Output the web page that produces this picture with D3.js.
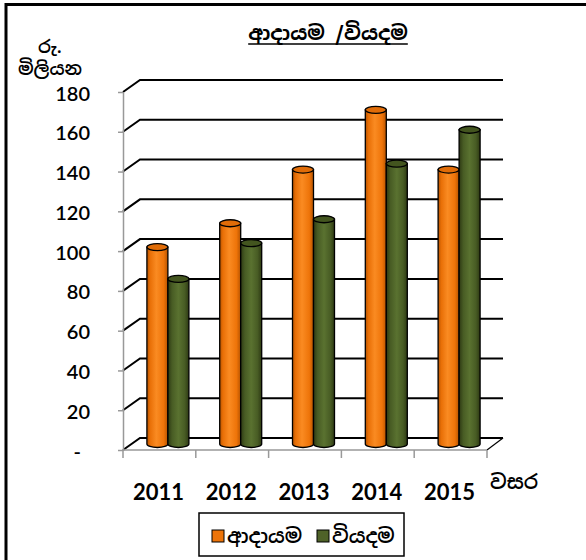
<!DOCTYPE html>
<html>
<head>
<meta charset="utf-8">
<script src="https://cdn.jsdelivr.net/npm/d3@7"></script>
<style>
  body { margin: 0; background: #fff; }
  svg { display: block; }
  .sin { font-family: "Noto Sans Sinhala", "Iskoola Pota", "Noto Sans", sans-serif; }
</style>
</head>
<body>
<svg id="chart"></svg>
<script>
// Chart data
const years = ["2011", "2012", "2013", "2014", "2015"];
const income = [99, 111, 138, 168, 138];   // ආදායම
const expense = [83, 101, 113, 141, 158];  // වියදම
const yTicks = [0, 20, 40, 60, 80, 100, 120, 140, 160, 180];
const seriesNames = ["ආදායම", "වියදම"];

const width = 586;
const height = 560;

const svg = d3.select("#chart")
    .attr("width", width)
    .attr("height", height);

// 3D depth offset of the back wall
const depthX = 17, depthY = -12;

const x = d3.scaleBand().domain(years).range([123, 487]);
const y = d3.scaleLinear().domain([0, 180]).range([450, 92]);
const sub = d3.scaleBand().domain(["inc", "exp"]).range([-21, 21]);

// gradients for cylinders
const defs = svg.append("defs");
function grad(id, stops) {
    const g = defs.append("linearGradient").attr("id", id)
        .attr("x1", "0%").attr("x2", "100%").attr("y1", "0%").attr("y2", "0%");
    stops.forEach(s => g.append("stop").attr("offset", s[0]).attr("stop-color", s[1]));
}
grad("gOrange", [[0, "#b65300"], [0.15, "#e86f06"], [0.45, "#fa8b22"], [0.8, "#ee7409"], [1, "#b65300"]]);
grad("gGreen", [[0, "#2d3913"], [0.2, "#485c24"], [0.5, "#5a7230"], [0.8, "#485c24"], [1, "#2d3913"]]);

// outer frame (top and left edges)
svg.append("line").attr("x1", 5).attr("x2", width).attr("y1", 4.5).attr("y2", 4.5)
    .attr("stroke", "#000").attr("stroke-width", 3);
svg.append("line").attr("x1", 6).attr("x2", 6).attr("y1", 3).attr("y2", height)
    .attr("stroke", "#000").attr("stroke-width", 3);

// gridlines: side wall diagonal + back wall horizontal
const grid = svg.append("g");
yTicks.forEach(t => {
    const yy = y(t);
    grid.append("path")
        .attr("d", `M${x.range()[0]},${yy} L${x.range()[0] + depthX},${yy + depthY} L${x.range()[1] + depthX - 1},${yy + depthY}`)
        .attr("fill", "none").attr("stroke", "#000").attr("stroke-width", 2);
});
// floor right edge
grid.append("line")
    .attr("x1", x.range()[1]).attr("y1", y(0))
    .attr("x2", x.range()[1] + depthX - 1).attr("y2", y(0) + depthY)
    .attr("stroke", "#000").attr("stroke-width", 1.2);

// y axis
const yAxis = svg.append("g")
    .attr("transform", `translate(${x.range()[0]},0)`)
    .call(d3.axisLeft(y).tickValues(yTicks).tickSize(5).tickSizeOuter(0).tickPadding(28)
        .tickFormat(d => d === 0 ? "-" : d));
yAxis.select(".domain").attr("stroke", "#999").attr("stroke-width", 1.5);
yAxis.selectAll(".tick line").attr("stroke", "#999").attr("stroke-width", 1.5);
yAxis.selectAll(".tick text")
    .attr("font-family", "Lato, 'Open Sans', sans-serif")
    .attr("font-size", 20).attr("font-weight", 600).attr("fill", "#000")
    .attr("dy", "0.4em");
yAxis.selectAll(".tick").filter(d => d === 0).select("text").attr("x", -42);

// x axis: line and ticks at category boundaries
const xAxis = svg.append("g");
xAxis.append("line")
    .attr("x1", x.range()[0]).attr("x2", x.range()[1])
    .attr("y1", y(0)).attr("y2", y(0))
    .attr("stroke", "#999").attr("stroke-width", 1.5);
const bounds = years.map(d => x(d)).concat([x.range()[1]]);
xAxis.selectAll(".xt").data(bounds).enter().append("line")
    .attr("x1", d => d).attr("x2", d => d)
    .attr("y1", y(0)).attr("y2", y(0) + 8)
    .attr("stroke", "#999").attr("stroke-width", 1.5);
xAxis.selectAll(".xl").data(years).enter().append("text")
    .attr("x", d => x(d) + x.bandwidth() / 2 - 1)
    .attr("y", 500)
    .attr("text-anchor", "middle")
    .attr("font-family", "Lato, 'Open Sans', sans-serif")
    .attr("font-weight", "bold")
    .attr("font-size", 22)
    .text(d => d);

// cylinders
function cylinder(g, x0, w, v, fill, cap) {
    const ry = 3.5, rx = w / 2;
    const yb = y(0) + depthY / 2;
    const yt = y(v) + depthY / 2;
    g.append("path")
        .attr("d", `M${x0},${yt} L${x0},${yb} A${rx},${ry} 0 0 0 ${x0 + w},${yb} L${x0 + w},${yt} Z`)
        .attr("fill", fill).attr("stroke", "#000").attr("stroke-width", 1.3);
    g.append("ellipse")
        .attr("cx", x0 + rx).attr("cy", yt).attr("rx", rx).attr("ry", ry)
        .attr("fill", cap).attr("stroke", "#000").attr("stroke-width", 1.3);
}
const bars = svg.append("g");
years.forEach((yr, i) => {
    const cx = x(yr) + x.bandwidth() / 2 + depthX / 2;
    cylinder(bars, cx + sub("inc"), sub.bandwidth(), income[i], "url(#gOrange)", "#e06c08");
    cylinder(bars, cx + sub("exp"), sub.bandwidth(), expense[i], "url(#gGreen)", "#43551f");
});

// title
const title = svg.append("text")
    .attr("class", "sin")
    .attr("x", 328).attr("y", 40)
    .attr("text-anchor", "middle")
    .attr("font-size", 20).attr("font-weight", "bold")
    .text(seriesNames[0] + " /" + seriesNames[1]);
const tw = title.node().getComputedTextLength();
svg.append("line")
    .attr("x1", 328 - tw / 2).attr("x2", 328 + tw / 2)
    .attr("y1", 44).attr("y2", 44)
    .attr("stroke", "#000").attr("stroke-width", 1.5);

// y axis title
svg.append("text").attr("class", "sin")
    .attr("x", 50).attr("y", 53).attr("text-anchor", "middle")
    .attr("font-size", 18).attr("font-weight", 600).text("රු.");
svg.append("text").attr("class", "sin")
    .attr("x", 50).attr("y", 75).attr("text-anchor", "middle")
    .attr("font-size", 18).attr("font-weight", 600).text("මිලියන");

// x axis title
svg.append("text").attr("class", "sin")
    .attr("x", 490).attr("y", 489)
    .attr("font-size", 20).attr("font-weight", 600).text("වසර");

// legend
const legend = svg.append("g");
legend.append("rect")
    .attr("x", 199).attr("y", 513).attr("width", 205).attr("height", 43)
    .attr("fill", "#fff").attr("stroke", "#000").attr("stroke-width", 1.5);
const legendColors = ["#ee7409", "#4f6228"];
const legendX = [212, 317];
legend.selectAll(".sw").data(seriesNames).enter().append("rect")
    .attr("x", (d, i) => legendX[i]).attr("y", 530)
    .attr("width", 12).attr("height", 12)
    .attr("fill", (d, i) => legendColors[i])
    .attr("stroke", "#000").attr("stroke-width", 1);
legend.selectAll(".lt").data(seriesNames).enter().append("text")
    .attr("class", "sin")
    .attr("x", (d, i) => legendX[i] + 15).attr("y", 543)
    .attr("font-size", 20).attr("font-weight", 600)
    .text(d => d);
</script>
</body>
</html>
